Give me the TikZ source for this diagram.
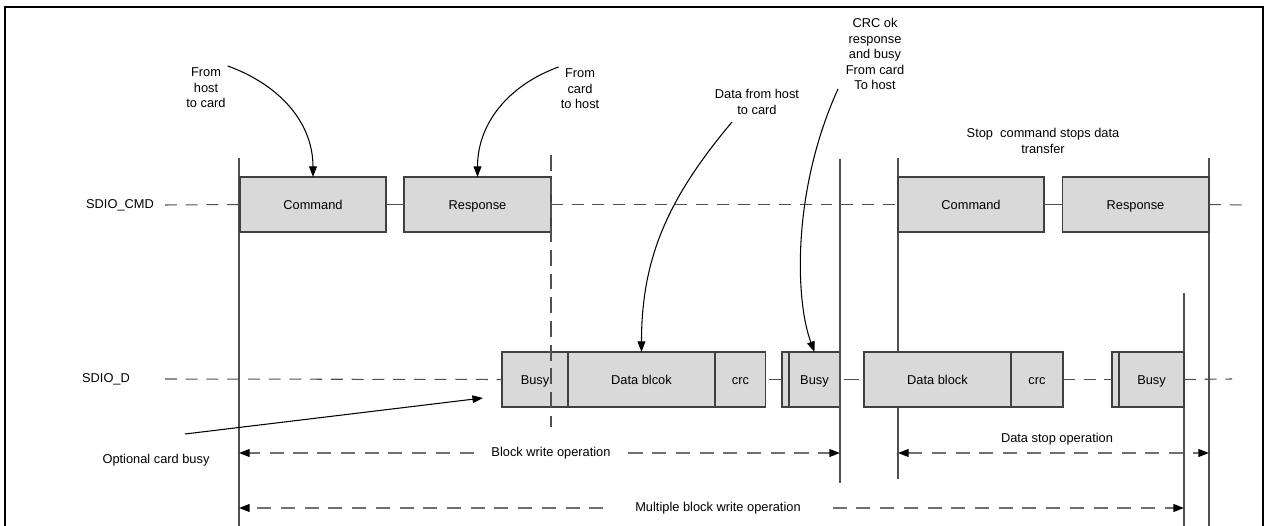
\documentclass[tikz,border=0pt]{standalone}
\usepackage{fontspec}
\setmainfont{Liberation Sans}
\usetikzlibrary{arrows.meta, positioning}
\definecolor{boxgray}{RGB}{217,217,217}
\definecolor{edgegray}{RGB}{64,64,64}
\definecolor{linegray}{RGB}{80,80,80}
\definecolor{dashgray}{RGB}{110,110,110}

\begin{document}
\begin{tikzpicture}[
  x=0.02cm, y=-0.02cm,
  font=\fontsize{7.3}{8.8}\selectfont,
  >={Triangle[length=6pt,width=4.4pt,color=black]},
  sigbox/.style={
    rectangle, draw=edgegray, fill=boxgray, line width=0.6pt,
    inner sep=0pt, outer sep=0pt, minimum height=1.1cm,
    text height=5.3pt, text depth=0pt
  },
  lbl/.style={align=center, inner sep=1pt},
  spantxt/.style={inner ysep=1pt, inner xsep=10pt},
  tline/.style={draw=linegray, line width=0.7pt},
  sigline/.style={draw=linegray, line width=0.6pt},
  sigdash/.style={sigline, dash pattern=on 6.8pt off 5pt},
  vdash/.style={tline, dash pattern=on 9pt off 4.5pt},
  ptr/.style={->, line width=0.6pt, black},
  span/.style={->, draw=dashgray, line width=0.9pt, dash pattern=on 8pt off 5.5pt}
]
  \useasboundingbox (0,0) rectangle (1271,526);

  % frame
  \draw[line width=1.4pt] (5,560) -- (5,7) -- (1263,7) -- (1263,560);

  % time markers
  \coordinate (vA) at (239,158);
  \coordinate (vB) at (551,155);
  \coordinate (vC) at (840,159);
  \coordinate (vD) at (898,158);
  \coordinate (vE) at (1209,158);
  \coordinate (vF) at (1184,293);
  \draw[tline] (vA) -- ++(0,380);
  \draw[tline] (vD) -- ++(0,321);
  \draw[tline] (vE) -- ++(0,380);
  \draw[tline] (vF) -- ++(0,250);

  % signal names
  \node (sigCmd) at (120,205) {SDIO\_CMD};
  \node (sigDat) at (106,379) {SDIO\_D};
  \coordinate (cmdLeft) at (165,205);
  \coordinate (cmdRight) at (1243,205);
  \coordinate (datLeft) at (165,379);
  \coordinate (datRight) at (1232,379);

  % SDIO_CMD line
  \node[sigbox, minimum width=2.92cm] (cmdA) at (313,204.5) {Command};
  \node[sigbox, minimum width=2.94cm] (respA) at (477.5,204.5) {Response};
  \node[sigbox, minimum width=2.92cm] (cmdB) at (971,204.5) {Command};
  \node[sigbox, minimum width=2.94cm] (respB) at (1135.5,204.5) {Response};
  \draw[sigdash] (cmdLeft) -- (cmdA.west);
  \draw[sigline] (cmdA.east) -- (respA.west);
  \draw[sigdash] (respA.east) -- (cmdB.west);
  \draw[sigline] (cmdB.east) -- (respB.west);
  \draw[sigdash] (respB.east) -- (cmdRight);

  % SDIO_D line
  \node[sigbox, minimum width=1.32cm] (busyA) at (535,379.5) {Busy};
  \node[sigbox, minimum width=2.94cm, right=0pt of busyA] (dblkA) {Data blcok};
  \node[sigbox, minimum width=1.02cm, right=0pt of dblkA] (crcA) {crc};
  \node[sigbox, minimum width=0.14cm] (tickA) at (785.5,379.5) {};
  \node[sigbox, minimum width=1.02cm, right=0pt of tickA] (busyB) {Busy};
  \node[sigbox, minimum width=2.94cm] (dblkB) at (937.5,379.5) {Data block};
  \node[sigbox, minimum width=1.04cm, right=0pt of dblkB] (crcB) {crc};
  \node[sigbox, minimum width=0.14cm] (tickB) at (1115.5,379.5) {};
  \node[sigbox, minimum width=1.3cm, right=0pt of tickB] (busyC) {Busy};
  \draw[sigdash] (datLeft) -- (busyA.west);
  \draw[sigline, shorten <=2pt] (crcA.east) -- (tickA.west);
  \draw[sigline, shorten <=2pt, shorten >=3pt] (busyB.east) -- (dblkB.west);
  \draw[sigdash] (crcB.east) -- (tickB.west);
  \draw[sigdash] (busyC.east) -- (datRight);
  \draw[tline] (vC) -- ++(0,324);
  \draw[vdash] (vB) -- ++(0,272);

  % notes
  \node[lbl] (lblHC) at (206,88) {From\\host\\to card};
  \node[lbl] (lblCH) at (580,89) {From\\card\\to host};
  \node[lbl] (lblDH) at (757,102) {Data from host\\to card};
  \node[lbl] (lblCRC) at (875,54) {CRC ok\\response\\and busy\\From card\\To host};
  \node[lbl] (lblStop) at (1043,141) {Stop\ \ command stops data\\transfer};
  \node[lbl] (lblOpt) at (156,460) {Optional card busy};
  \coordinate (dhTail) at (732,122);
  \coordinate (crcTail) at (838,89);
  \coordinate (optTail) at (185,434);
  \coordinate (optTip) at (483,398);

  \draw[ptr] (lblHC.north east) to[out=-20, in=90] (cmdA.north);
  \draw[ptr] (lblCH.north west) to[out=200, in=90] (respA.north);
  \draw[ptr] (dhTail) to[out=-130, in=90] (dblkA.north);
  \draw[ptr] (crcTail) .. controls (792,190) and (795,300) .. (busyB.north);
  \draw[ptr] (optTail) -- (optTip);

  % operation spans
  \node[spantxt] (bwTxt) at (551,453) {Block write operation};
  \draw[span] (bwTxt.west) -- (vA |- bwTxt);
  \draw[span] (bwTxt.east) -- (vC |- bwTxt);
  \coordinate (dsMid) at (1055,453);
  \node[lbl] (dsTxt) at (1057,439) {Data stop operation};
  \draw[span, <->] (vD |- dsMid) -- (vE |- dsMid);
  \node[spantxt, inner xsep=18pt] (mbTxt) at (718,508) {Multiple block write operation};
  \draw[span] (mbTxt.west) -- (vA |- mbTxt);
  \draw[span] (mbTxt.east) -- (vF |- mbTxt);
\end{tikzpicture}
\end{document}
